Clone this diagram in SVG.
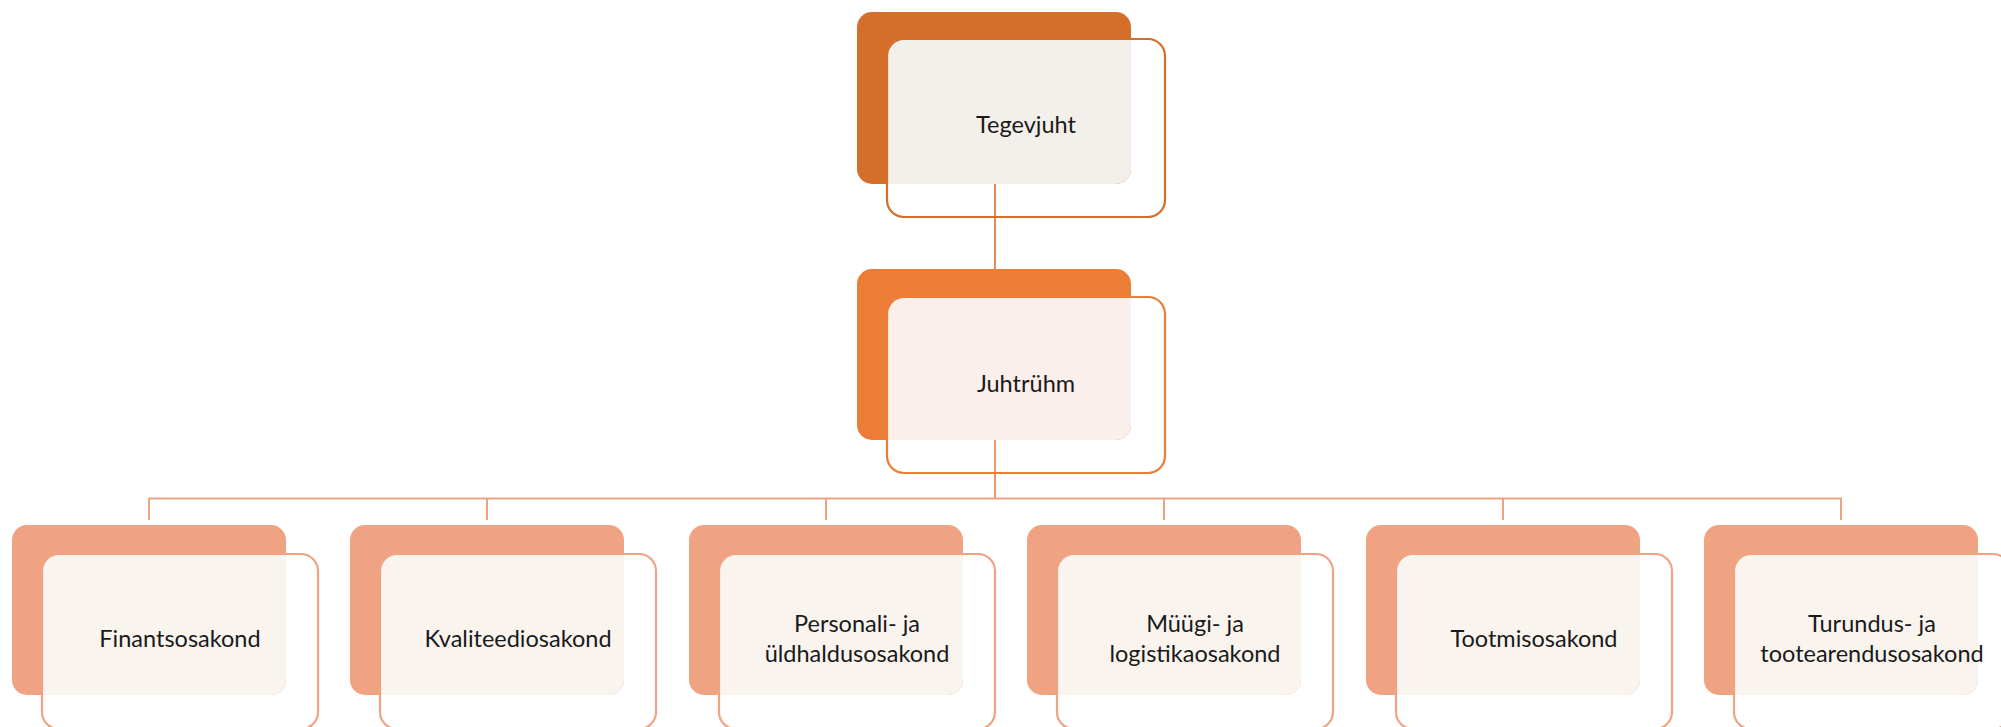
<svg xmlns="http://www.w3.org/2000/svg" width="2001" height="727" viewBox="0 0 2001 727">
<style>
  .lbl { font-family: Lato, "Open Sans", "Liberation Sans", sans-serif; font-size: 23.5px; fill: #1a1a1a; text-anchor: middle; }
  .b0 { fill: #D56D2B; } .o0 { fill: none; stroke: #D56D2B; stroke-width: 2.2; } .c0 { fill: #F3EFEA; }
  .b1 { fill: #EB7D37; } .o1 { fill: none; stroke: #EB7D37; stroke-width: 2.2; } .c1 { fill: #FAEFEA; }
  .b2 { fill: #F0A382; } .o2 { fill: none; stroke: #F0A382; stroke-width: 2.2; } .c2 { fill: #F9F4EE; }
  .conn { fill: none; stroke-width: 2; }
</style>
<rect width="2001" height="727" fill="#ffffff"/>
<g id="connectors">
  <line class="conn" x1="995" y1="184" x2="995" y2="269" stroke="#E98A55"/>
  <line class="conn" x1="995" y1="440" x2="995" y2="498.5" stroke="#EE9466"/>
  <polyline class="conn" points="149,520 149,498.5 1841,498.5 1841,520" stroke="#F0A382"/>
  <line class="conn" x1="487" y1="498.5" x2="487" y2="520" stroke="#F0A382"/>
  <line class="conn" x1="826" y1="498.5" x2="826" y2="520" stroke="#F0A382"/>
  <line class="conn" x1="1164" y1="498.5" x2="1164" y2="520" stroke="#F0A382"/>
  <line class="conn" x1="1503" y1="498.5" x2="1503" y2="520" stroke="#F0A382"/>
</g>
<g id="tegevjuht" transform="translate(857,12)">
  <rect class="b0" x="0" y="0" width="274" height="172" rx="15"/>
  <path class="c0" d="M30,42 A15,15 0 0 1 45,27 H274 V157 A15,15 0 0 1 259,172 H30 Z"/>
  <rect class="o0" x="30" y="27" width="278" height="178" rx="17"/>
  <text class="lbl" x="169" y="121">Tegevjuht</text>
</g>
<g id="juhtruhm" transform="translate(857,269)">
  <rect class="b1" x="0" y="0" width="274" height="171" rx="15"/>
  <path class="c1" d="M30,43 A15,15 0 0 1 45,28 H274 V156 A15,15 0 0 1 259,171 H30 Z"/>
  <rect class="o1" x="30" y="28" width="278" height="176" rx="17"/>
  <text class="lbl" x="169" y="123">Juhtrühm</text>
</g>
<g id="finantsosakond" transform="translate(12,525)">
  <rect class="b2" x="0" y="0" width="274" height="170" rx="15"/>
  <path class="c2" d="M30,44 A15,15 0 0 1 45,29 H274 V155 A15,15 0 0 1 259,170 H30 Z"/>
  <rect class="o2" x="30" y="29" width="276" height="175" rx="17"/>
  <text class="lbl" x="168" y="122">Finantsosakond</text>
</g>
<g id="kvaliteediosakond" transform="translate(350,525)">
  <rect class="b2" x="0" y="0" width="274" height="170" rx="15"/>
  <path class="c2" d="M30,44 A15,15 0 0 1 45,29 H274 V155 A15,15 0 0 1 259,170 H30 Z"/>
  <rect class="o2" x="30" y="29" width="276" height="175" rx="17"/>
  <text class="lbl" x="168" y="122">Kvaliteediosakond</text>
</g>
<g id="personali" transform="translate(689,525)">
  <rect class="b2" x="0" y="0" width="274" height="170" rx="15"/>
  <path class="c2" d="M30,44 A15,15 0 0 1 45,29 H274 V155 A15,15 0 0 1 259,170 H30 Z"/>
  <rect class="o2" x="30" y="29" width="276" height="175" rx="17"/>
  <text class="lbl" x="168" y="107">Personali- ja</text>
  <text class="lbl" x="168" y="137">üldhaldusosakond</text>
</g>
<g id="myygi" transform="translate(1027,525)">
  <rect class="b2" x="0" y="0" width="274" height="170" rx="15"/>
  <path class="c2" d="M30,44 A15,15 0 0 1 45,29 H274 V155 A15,15 0 0 1 259,170 H30 Z"/>
  <rect class="o2" x="30" y="29" width="276" height="175" rx="17"/>
  <text class="lbl" x="168" y="107">Müügi- ja</text>
  <text class="lbl" x="168" y="137">logistikaosakond</text>
</g>
<g id="tootmisosakond" transform="translate(1366,525)">
  <rect class="b2" x="0" y="0" width="274" height="170" rx="15"/>
  <path class="c2" d="M30,44 A15,15 0 0 1 45,29 H274 V155 A15,15 0 0 1 259,170 H30 Z"/>
  <rect class="o2" x="30" y="29" width="276" height="175" rx="17"/>
  <text class="lbl" x="168" y="122">Tootmisosakond</text>
</g>
<g id="turundus" transform="translate(1704,525)">
  <rect class="b2" x="0" y="0" width="274" height="170" rx="15"/>
  <path class="c2" d="M30,44 A15,15 0 0 1 45,29 H274 V155 A15,15 0 0 1 259,170 H30 Z"/>
  <rect class="o2" x="30" y="29" width="276" height="175" rx="17"/>
  <text class="lbl" x="168" y="107">Turundus- ja</text>
  <text class="lbl" x="168" y="137">tootearendusosakond</text>
</g>
</svg>
